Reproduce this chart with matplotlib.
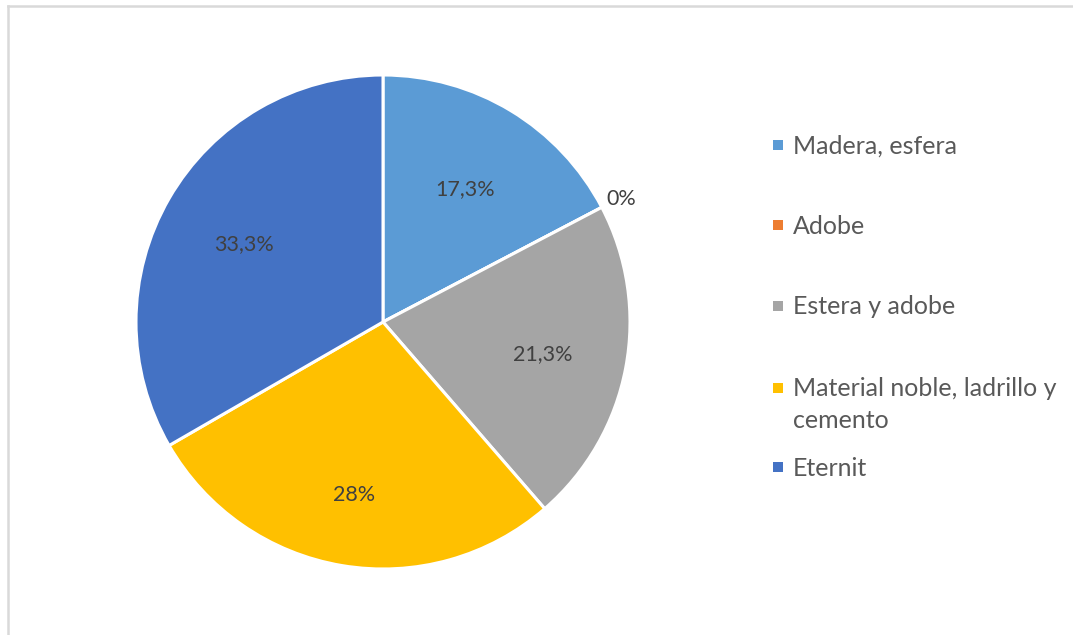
import numpy as np
import matplotlib
matplotlib.use("Agg")
import matplotlib.pyplot as plt
from matplotlib.patches import Rectangle
from matplotlib.lines import Line2D

categories = ["Madera, esfera", "Adobe", "Estera y adobe",
              "Material noble, ladrillo y\ncemento", "Eternit"]
values = [17.3, 0.0, 21.3, 28.0, 33.3]
colors = ["#5B9BD5", "#ED7D31", "#A5A5A5", "#FFC000", "#4472C4"]

# radial position of each percentage label (fraction of the radius)
label_radius = [0.64, 1.09, 0.66, 0.70, 0.65]

plt.rcParams["font.family"] = ["Lato", "DejaVu Sans"]

W, H = 1073, 635
fig = plt.figure(figsize=(W / 100, H / 100), dpi=100)
fig.patch.set_facecolor("white")

# chart-area frame (top and left edges visible)
fig.add_artist(Line2D([8 / W, 1.0], [1 - 6 / H, 1 - 6 / H], transform=fig.transFigure,
                      color="#D9D9D9", lw=1.8))
fig.add_artist(Line2D([8 / W, 8 / W], [0.0, 1 - 6 / H], transform=fig.transFigure,
                      color="#D9D9D9", lw=1.8))

# pie
cx, cy, r = 383, 322, 247
ax = fig.add_axes([(cx - r) / W, (H - cy - r) / H, 2 * r / W, 2 * r / H])
wedges, _ = ax.pie(values, colors=colors, startangle=90, counterclock=False,
                   radius=1.0, wedgeprops=dict(edgecolor="white", linewidth=2.2))
ax.set_xlim(-1, 1)
ax.set_ylim(-1, 1)
ax.set_aspect("equal")
ax.axis("off")


def fmt(v):
    if float(v).is_integer():
        return f"{int(v)}%"
    return f"{v:.1f}%".replace(".", ",")


for w, v, d in zip(wedges, values, label_radius):
    mid = np.deg2rad((w.theta1 + w.theta2) / 2)
    ax.text(d * np.cos(mid), d * np.sin(mid), fmt(v), ha="center",
            va="center_baseline", fontsize=15.5, color="#404040")

# legend
leg_y = [145, 225, 306, 388, 467]
for lab, col, y in zip(categories, colors, leg_y):
    fig.add_artist(Rectangle((773 / W, 1 - (y + 5) / H), 10 / W, 10 / H,
                             transform=fig.transFigure, facecolor=col, edgecolor="none"))
    for i, line in enumerate(lab.split("\n")):
        base = y + 8.5 + 32 * i
        fig.text(793 / W, 1 - base / H, line, ha="left", va="baseline",
                 fontsize=18, color="#595959")

fig.savefig("out.png", dpi=100, facecolor="white")
